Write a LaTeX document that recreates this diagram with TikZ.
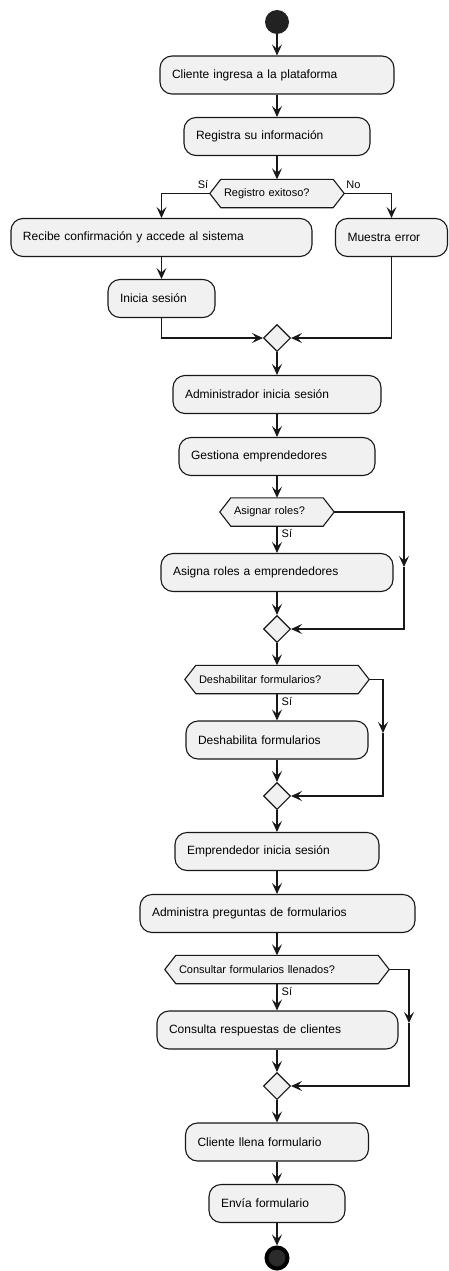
\documentclass[tikz,border=0pt]{standalone}
\usepackage{fontspec}
\setmainfont{Liberation Sans}
\usetikzlibrary{arrows.meta,shapes.geometric,backgrounds,calc}
\definecolor{boxfill}{HTML}{F1F1F1}
\definecolor{edge}{HTML}{181818}
\definecolor{dot}{HTML}{222222}
\definecolor{enddot}{HTML}{2B2B2B}
\begin{document}
\begin{tikzpicture}[x=1pt,y=-1pt,
  act/.style={draw=edge, fill=boxfill, line width=1.1pt, rounded corners=12pt,
    minimum height=38pt, inner xsep=12pt, inner ysep=0pt, align=left,
    text width=#1, font=\fontsize{12}{14}\selectfont},
  hex/.style={inner xsep=3pt, inner ysep=0pt, minimum height=28pt, align=left,
    text width=#1, font=\fontsize{11}{13}\selectfont},
  hexdraw/.style={draw=edge, fill=boxfill, line width=1.1pt},
  merge/.style={diamond, draw=edge, fill=boxfill, line width=1.1pt, inner sep=0pt,
    minimum width=27pt, minimum height=27pt},
  lbl/.style={inner sep=0pt, font=\fontsize{11}{13}\selectfont},
  arr/.style={-{Stealth[length=11pt,width=10pt,inset=4.5pt]}, draw=edge, line width=1.1pt},
  startc/.style={circle, fill=dot, draw=none, minimum size=24pt, inner sep=0pt},
  endc/.style={circle, fill=enddot, draw=black, line width=4pt, minimum size=21pt, inner sep=0pt}
]
\useasboundingbox (0,0) rectangle (448,1271);

% nodes
\node[startc] (start) at (277,22) {};
\node[act=210] (a1) at (277,75) {Cliente ingresa a la plataforma};
\node[act=162] (a2) at (277,136.5) {Registra su información};
\node[hex=106] (d1) at (277,193.5) {Registro exitoso?};
\node[act=277] (a3) at (161.5,237.5) {Recibe confirmación y accede al sistema};
\node[act=88] (a4) at (391.5,237.5) {Muestra error};
\node[act=83] (a5) at (161.5,298.5) {Inicia sesión};
\node[merge] (m1) at (277,338) {};
\node[act=184] (a6) at (277,394.5) {Administrador inicia sesión};
\node[act=172] (a7) at (277,456.5) {Gestiona emprendedores};
\node[hex=86] (d2) at (277,512) {Asignar roles?};
\node[act=208] (a8) at (277,572.5) {Asigna roles a emprendedores};
\node[merge] (m2) at (277,629) {};
\node[hex=156] (d3) at (277,679.5) {Deshabilitar formularios?};
\node[act=158] (a9) at (277,740) {Deshabilita formularios};
\node[merge] (m3) at (277,796) {};
\node[act=180] (a10) at (277,851.5) {Emprendedor inicia sesión};
\node[act=251] (a11) at (277.5,913.5) {Administra preguntas de formularios};
\node[hex=196] (d4) at (277,969.5) {Consultar formularios llenados?};
\node[act=217] (a12) at (277.5,1030) {Consulta respuestas de clientes};
\node[merge] (m4) at (277,1086) {};
\node[act=159] (a13) at (277,1142) {Cliente llena formulario};
\node[act=112] (a14) at (277,1203.5) {Envía formulario};
\node[endc] (end) at (277,1258) {};

% hexagon tips
\foreach \n in {d1,d2,d3,d4}{
  \coordinate (\n l) at ($(\n.west)+(-11,0)$);
  \coordinate (\n r) at ($(\n.east)+(11,0)$);
}
\begin{scope}[on background layer]
  \foreach \n in {d1,d2,d3,d4}{
    \filldraw[hexdraw] (\n.north west) -- (\n.north east) -- (\n r) -- (\n.south east)
      -- (\n.south west) -- (\n l) -- cycle;
  }
\end{scope}

% loop corners
\coordinate (c2) at (404,567);
\coordinate (c3) at (383,733);
\coordinate (c4) at (409,1023);

% labels
\node[lbl] (s1) at (203,185) {Sí};
\node[lbl] (n1) at (353.5,185) {No};
\node[lbl, anchor=west] (s2) at (281.5,533) {Sí};
\node[lbl, anchor=west] (s3) at (281.5,701) {Sí};
\node[lbl, anchor=west] (s4) at (281.5,991) {Sí};

% connectors
\draw[arr] (start) -- (a1);
\draw[arr] (a1) -- (a2);
\draw[arr] (a2) -- (d1);
\draw[arr] (d1l) -| (a3.north);
\draw[arr] (d1r) -| (a4.north);
\draw[arr] (a3) -- (a5);
\draw[arr] (a5.south) |- (m1.west);
\draw[arr] (a4.south) |- (m1.east);
\draw[arr] (m1) -- (a6);
\draw[arr] (a6) -- (a7);
\draw[arr] (a7) -- (d2);
\draw[arr] (d2) -- (a8);
\draw[arr] (a8) -- (m2);
\draw[arr] (d2r) -| (c2);
\draw[arr] (c2) |- (m2.east);
\draw[arr] (m2) -- (d3);
\draw[arr] (d3) -- (a9);
\draw[arr] (a9) -- (m3);
\draw[arr] (d3r) -| (c3);
\draw[arr] (c3) |- (m3.east);
\draw[arr] (m3) -- (a10);
\draw[arr] (a10) -- (a11.north -| a10);
\draw[arr] (a11.south -| d4) -- (d4);
\draw[arr] (d4) -- (a12.north -| d4);
\draw[arr] (a12.south -| m4) -- (m4);
\draw[arr] (d4r) -| (c4);
\draw[arr] (c4) |- (m4.east);
\draw[arr] (m4) -- (a13);
\draw[arr] (a13) -- (a14);
\draw[arr] (a14) -- (end);
\end{tikzpicture}
\end{document}
